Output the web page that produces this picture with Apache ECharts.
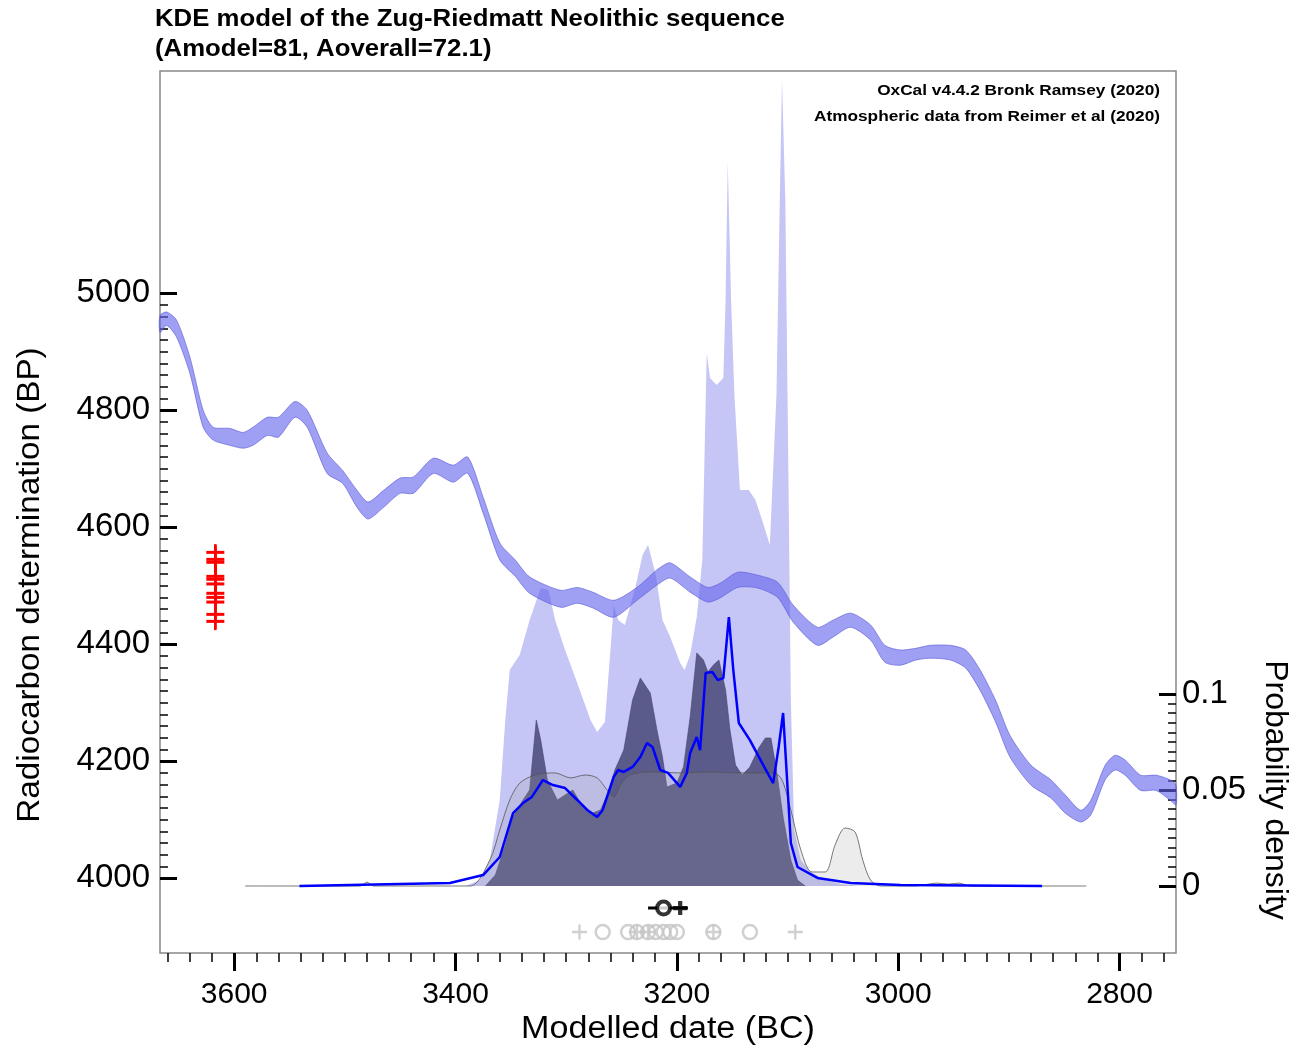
<!DOCTYPE html>
<html><head><meta charset="utf-8">
<script src="https://cdn.jsdelivr.net/npm/echarts@6/dist/echarts.min.js"></script>
<style>html,body{margin:0;padding:0;background:#fff}#c{width:1307px;height:1049px}</style>
</head><body><div id="c"></div>
<script>
// ---- Calibration curve (IntCal20) band: year BC, upper / lower BP ----
const calYears = [3667,3661,3652,3640,3628,3619,3604,3592,3583,3570,3560,3545,3534,3516,3502,3489,3479,3465,3450,3438,3420,3402,3389,3375,3360,3346,3333,3305,3290,3276,3257,3236,3218,3206,3188,3172,3161,3145,3127,3109,3095,3073,3059,3043,3025,3012,2998,2984,2971,2953,2939,2926,2912,2899,2880,2862,2849,2835,2826,2813,2804,2795,2781,2767,2754,2749];
const calUpper = [4962,4968,4954,4891,4800,4771,4769,4762,4771,4788,4788,4815,4800,4727,4697,4663,4643,4663,4684,4686,4718,4706,4720,4651,4573,4544,4515,4492,4497,4489,4475,4497,4527,4539,4515,4497,4504,4523,4518,4506,4467,4429,4441,4453,4433,4398,4390,4393,4398,4398,4390,4356,4304,4244,4193,4168,4142,4116,4133,4193,4210,4202,4176,4176,4168,4159];
const calLower = [4933,4945,4925,4863,4771,4749,4740,4735,4740,4757,4754,4788,4771,4692,4675,4634,4614,4634,4658,4658,4692,4677,4692,4624,4544,4516,4487,4463,4470,4462,4446,4475,4501,4513,4489,4472,4479,4497,4496,4480,4438,4398,4412,4429,4407,4369,4364,4373,4376,4373,4359,4321,4267,4207,4159,4137,4111,4096,4108,4168,4185,4176,4150,4150,4133,4125];

// ---- Summed likelihoods (light lavender) : year BC, probability ----
const sumYears = [3391,3378,3369,3360,3355,3351,3342,3333,3323,3316,3310,3301,3290,3278,3272,3265,3260,3257,3253,3247,3238,3231,3226,3219,3213,3206,3197,3193,3188,3182,3177,3173,3170,3164,3158,3156,3154,3151,3148,3143,3135,3129,3123,3116,3110,3107,3105,3102,3100,3097,3094,3088,3079,3066,3052,3034];
const sumProb  = [0,0.0031,0.0135,0.0448,0.0865,0.1125,0.1203,0.1385,0.1552,0.1542,0.1385,0.1229,0.1057,0.0865,0.0802,0.0854,0.1229,0.1464,0.1385,0.1359,0.1542,0.1724,0.1776,0.162,0.1385,0.1297,0.1161,0.1125,0.1203,0.1401,0.1698,0.2776,0.2646,0.2609,0.2646,0.3052,0.3771,0.3052,0.2557,0.2063,0.2063,0.201,0.1906,0.1776,0.2557,0.3573,0.4198,0.3573,0.2557,0.0969,0.0292,0.0135,0.0073,0.0031,0.001,0];

// ---- Modelled (posterior) distribution, dark navy ----
const postYears = [3373,3364,3355,3348,3339,3333,3327,3323,3317,3308,3301,3294,3286,3276,3269,3263,3256,3248,3240,3233,3224,3218,3213,3209,3200,3194,3188,3182,3176,3172,3167,3162,3156,3152,3147,3141,3134,3126,3120,3115,3110,3104,3097,3091,3084];
const postProb  = [0,0.0057,0.0214,0.0359,0.0448,0.05,0.0865,0.076,0.0552,0.0448,0.0474,0.05,0.0422,0.038,0.0396,0.0474,0.0604,0.0708,0.0969,0.1083,0.1005,0.0813,0.0672,0.0516,0.0536,0.062,0.088,0.1214,0.1177,0.1115,0.1151,0.1177,0.1021,0.0813,0.063,0.0578,0.062,0.0719,0.0771,0.0771,0.0604,0.0359,0.0135,0.0031,0];

// ---- KDE model prior (grey) ----
const kdeYears = [3590,3500,3486,3480,3474,3460,3387,3369,3360,3351,3342,3328,3310,3296,3283,3272,3263,3257,3251,3242,3224,3197,3170,3143,3116,3106,3097,3088,3078,3066,3057,3048,3039,3032,3025,3016,2985,2965,2955,2945,2935,2830];
const kdeProb  = [0,0,0,0.002,0,0,0,0.0135,0.0292,0.0448,0.0536,0.0578,0.0589,0.0563,0.0578,0.0563,0.05,0.0464,0.0526,0.0578,0.0594,0.0589,0.0594,0.0589,0.0589,0.0563,0.0396,0.0188,0.0073,0.0073,0.0214,0.0302,0.0281,0.0135,0.0031,0,0,0.0015,0.001,0.0015,0,0];

// ---- KDE_Plot (blue line) ----
const kdeLineYears = [3541,3405,3375,3360,3348,3339,3331,3321,3312,3301,3290,3281,3272,3267,3257,3253,3248,3240,3233,3227,3222,3215,3208,3197,3191,3188,3182,3179,3174,3168,3163,3158,3153,3149,3144,3134,3123,3113,3108,3104,3097,3091,3073,3043,2998,2870];
const kdeLineProb  = [0,0.0016,0.0057,0.0151,0.038,0.0432,0.0464,0.0552,0.0526,0.051,0.0448,0.0396,0.0359,0.0396,0.0568,0.0604,0.0594,0.062,0.0672,0.0745,0.0724,0.0604,0.0589,0.0516,0.0589,0.0693,0.0776,0.0708,0.1109,0.1115,0.1073,0.1083,0.1401,0.1125,0.0849,0.076,0.0641,0.0536,0.0724,0.0901,0.0224,0.0099,0.0042,0.0016,0.0005,0];

// ---- Radiocarbon dates (BP mean, error) ----
const dateMeans = [4557,4545,4540,4516,4511,4503,4487,4480,4472,4451,4439];
const dateErrs  = [14,25,25,30,30,30,30,30,30,25,15];

// ---- Summary markers below the distributions (year BC) ----
const meanRange = [3226,3190];
const meanCircle = [3212];
const medianPlus = [3197];
const greyCircles = [3267,3244,3236,3226,3219,3212,3206,3200,3167,3134];
const greyPluses = [3288,3236,3226,3167,3093];

// ---- Axis ticks ----
const xMajor = [3600,3400,3200,3000,2800];
const yMajor = [4000,4200,4400,4600,4800,5000];
const pMajor = [0,0.05,0.1];

const X_MIN = 2749, X_MAX = 3667;
const Y_MIN = 3872, Y_MAX = 5380;
const P_MIN = -0.0349, P_MAX = 0.4245;
const ROW_MEAN = -0.0115, ROW_OTHER = -0.024;
const DATE_X = 3617;

const xMinor = []; for (let v = 2760; v <= 3660; v += 20) if (v % 200) xMinor.push(v);
const yMinor = []; for (let v = 4020; v < 5000; v += 20) if (v % 200) yMinor.push(v);
const pMinor = []; for (let i = 1; i < 20; i++) if (i !== 10) pMinor.push(+(i * 0.005).toFixed(3));

const zip = (a, b) => a.map((v, i) => [v, b[i]]);
const FONT = 'Liberation Sans, Arial, Helvetica, sans-serif';

const chart = echarts.init(document.getElementById('c'), null, {renderer: 'canvas'});

function xAx(ticks, len, w, labels) {
  return {
    type: 'value', inverse: true, min: X_MIN, max: X_MAX, position: 'bottom',
    axisLine: {show: false, onZero: false}, splitLine: {show: false},
    axisTick: {show: true, inside: false, length: len, customValues: ticks, lineStyle: {color: '#000', width: w}},
    axisLabel: labels ? {show: true, customValues: ticks, color: '#000', fontSize: 30, fontFamily: FONT, margin: 27, formatter: v => String(v)} : {show: false}
  };
}
function yAx(min, max, pos, ticks, len, w, labels, fmt, margin) {
  return {
    type: 'value', min: min, max: max, position: pos,
    axisLine: {show: false, onZero: false}, splitLine: {show: false},
    axisTick: {show: true, inside: true, length: len, customValues: ticks, lineStyle: {color: '#000', width: w}},
    axisLabel: labels ? {show: true, customValues: ticks, color: '#000', fontSize: 33, fontFamily: FONT, margin: margin, formatter: fmt} : {show: false}
  };
}

const option = {
  animation: false,
  backgroundColor: '#fff',
  grid: {left: 160, top: 71, width: 1016, height: 882, show: true, borderColor: '#888', borderWidth: 1.5, backgroundColor: 'transparent'},
  xAxis: [
    xAx(xMajor, 18, 3, true),
    xAx(xMinor, 9, 1.5, false)
  ],
  yAxis: [
    yAx(Y_MIN, Y_MAX, 'left', yMajor, 17, 3, true, v => String(v), 10),
    yAx(Y_MIN, Y_MAX, 'left', yMinor, 8, 1.5, false),
    yAx(P_MIN, P_MAX, 'right', pMajor, 17, 3, true, v => (v === 0 ? '0' : String(+v.toFixed(2))), 6),
    yAx(P_MIN, P_MAX, 'right', pMinor, 8, 1.5, false)
  ],
  graphic: [
    {type: 'text', x: 155, y: 5, scaleX: 1.12, style: {text: 'KDE model of the Zug-Riedmatt Neolithic sequence\n(Amodel=81, Aoverall=72.1)', fontSize: 23, fontWeight: 'bold', fontFamily: FONT, fill: '#000', lineHeight: 30, align: 'left', verticalAlign: 'top'}},
    {type: 'text', x: 1160, y: 91, scaleX: 1.15, style: {text: 'OxCal v4.4.2 Bronk Ramsey (2020)', fontSize: 15, fontWeight: 'bold', fontFamily: FONT, fill: '#000', align: 'right', verticalAlign: 'middle'}},
    {type: 'text', x: 1160, y: 117, scaleX: 1.15, style: {text: 'Atmospheric data from Reimer et al (2020)', fontSize: 15, fontWeight: 'bold', fontFamily: FONT, fill: '#000', align: 'right', verticalAlign: 'middle'}},
    {type: 'text', x: 30, y: 585, rotation: Math.PI / 2, scaleX: 1.04, style: {text: 'Radiocarbon determination (BP)', fontSize: 32, fontFamily: FONT, fill: '#000', align: 'center', verticalAlign: 'middle'}},
    {type: 'text', x: 1275, y: 790, rotation: -Math.PI / 2, style: {text: 'Probability density', fontSize: 32, fontFamily: FONT, fill: '#000', align: 'center', verticalAlign: 'middle'}},
    {type: 'text', x: 668, y: 1029, scaleX: 1.1, style: {text: 'Modelled date (BC)', fontSize: 31, fontFamily: FONT, fill: '#000', align: 'center', verticalAlign: 'middle'}}
  ],
  series: [
    {type: 'line', name: 'sum', xAxisIndex: 0, yAxisIndex: 2, data: zip(sumYears, sumProb), symbol: 'none', silent: true,
     lineStyle: {width: 0}, areaStyle: {color: '#c5c5f6', opacity: 1}, z: 1},
    {type: 'line', name: 'posterior', xAxisIndex: 0, yAxisIndex: 2, data: zip(postYears, postProb), symbol: 'none', silent: true,
     lineStyle: {width: 0.6, color: '#444466'}, areaStyle: {color: '#5a5a8b', opacity: 1}, z: 2},
    {type: 'line', name: 'kde', xAxisIndex: 0, yAxisIndex: 2, data: zip(kdeYears, kdeProb), symbol: 'none', silent: true, smooth: 0.3,
     lineStyle: {width: 0.8, color: '#555'}, areaStyle: {color: 'rgba(160,160,160,0.28)'}, z: 3},
    {type: 'line', name: 'kdeplot', xAxisIndex: 0, yAxisIndex: 2, data: zip(kdeLineYears, kdeLineProb), symbol: 'none', silent: true,
     lineStyle: {width: 2.5, color: '#0000ff'}, z: 4},
    {type: 'custom', name: 'calcurve', xAxisIndex: 0, yAxisIndex: 0, silent: true, z: 5, data: [0],
     renderItem: function (params, api) {
       const pts = [];
       for (let i = 0; i < calYears.length; i++) pts.push(api.coord([calYears[i], calUpper[i]]));
       for (let i = calYears.length - 1; i >= 0; i--) pts.push(api.coord([calYears[i], calLower[i]]));
       return {type: 'polygon', shape: {points: pts, smooth: 0.25}, style: {fill: 'rgba(100,100,235,0.62)', stroke: 'rgba(85,85,215,0.75)', lineWidth: 0.8}};
     }},
    {type: 'custom', name: 'dates', xAxisIndex: 0, yAxisIndex: 0, silent: true, z: 6, data: zip(dateMeans, dateErrs),
     renderItem: function (params, api) {
       const m = api.value(0), e = api.value(1);
       const top = api.coord([DATE_X, m + e]), bot = api.coord([DATE_X, m - e]), mid = api.coord([DATE_X, m]);
       return {type: 'group', children: [
         {type: 'line', shape: {x1: top[0], y1: top[1], x2: bot[0], y2: bot[1]}, style: {stroke: '#ff0000', lineWidth: 2.5}},
         {type: 'line', shape: {x1: mid[0] - 9, y1: mid[1], x2: mid[0] + 9, y2: mid[1]}, style: {stroke: '#ff0000', lineWidth: 3}}
       ]};
     }},
    {type: 'line', name: 'meanbar', xAxisIndex: 0, yAxisIndex: 2, data: meanRange.map(v => [v, ROW_MEAN]), symbol: 'none', silent: true,
     lineStyle: {width: 3, color: '#000'}, z: 7},
    {type: 'scatter', name: 'meanc', xAxisIndex: 0, yAxisIndex: 2, data: meanCircle.map(v => [v, ROW_MEAN]), symbol: 'circle', symbolSize: 13, silent: true,
     itemStyle: {color: '#fff', borderColor: '#000', borderWidth: 4}, z: 8},
    {type: 'scatter', name: 'medp', xAxisIndex: 0, yAxisIndex: 2, data: medianPlus.map(v => [v, ROW_MEAN]), symbol: 'path://M3.5,0h3v3.5h3.5v3h-3.5v3.5h-3v-3.5h-3.5v-3h3.5z', symbolSize: 14, silent: true,
     itemStyle: {color: '#000'}, z: 8},
    {type: 'scatter', name: 'gc', xAxisIndex: 0, yAxisIndex: 2, data: greyCircles.map(v => [v, ROW_OTHER]), symbol: 'circle', symbolSize: 14, silent: true,
     itemStyle: {color: 'transparent', borderColor: '#c4c4c4', borderWidth: 2.5}, z: 7},
    {type: 'scatter', name: 'gp', xAxisIndex: 0, yAxisIndex: 2, data: greyPluses.map(v => [v, ROW_OTHER]), symbol: 'path://M4.2,0h1.6v4.2h4.2v1.6h-4.2v4.2h-1.6v-4.2h-4.2v-1.6h4.2z', symbolSize: 15, silent: true,
     itemStyle: {color: '#c4c4c4'}, z: 7}
  ]
};
chart.setOption(option);
</script>
</body></html>
